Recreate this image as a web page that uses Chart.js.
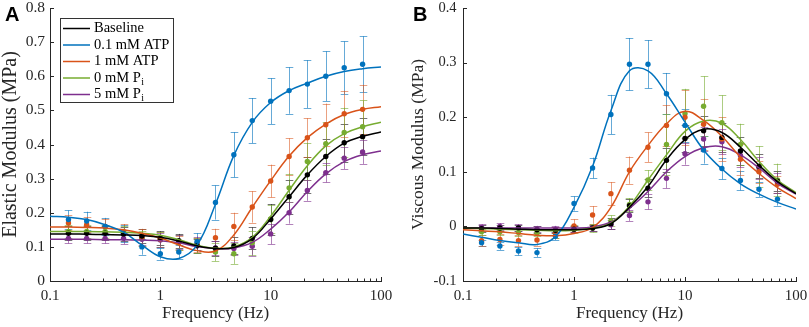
<!DOCTYPE html>
<html><head><meta charset="utf-8">
<script src="https://cdn.jsdelivr.net/npm/chart.js@4"></script>
<style>
html,body{margin:0;padding:0;background:#fff;}
#wrap{position:relative;width:809px;height:327px;overflow:hidden;}
.panel{position:absolute;top:0;height:327px;}
#pa{left:0;width:400px;} #pb{left:400px;width:409px;}
</style></head><body>
<div id="wrap">
<div class="panel" id="pa"><canvas id="ca"></canvas></div>
<div class="panel" id="pb"><canvas id="cb"></canvas></div>
</div>
<script>
// ---------- data ----------
const seriesNames = ['Baseline', '0.1 mM ATP', '1 mM ATP', '0 mM P_i', '5 mM P_i'];
const seriesColors = ['#000000', '#0072BD', '#D95319', '#77AC30', '#7E2F8E'];
const errorColors = ['rgba(0,0,0,0.55)', 'rgba(0,114,189,0.6)', 'rgba(217,83,25,0.55)', 'rgba(119,172,48,0.6)', 'rgba(126,47,142,0.6)'];

const xTickValues = [0.1, 1, 10, 100];
const xTickLabels = ['0.1', '1', '10', '100'];
const elasticTickValues = [0, 0.1, 0.2, 0.3, 0.4, 0.5, 0.6, 0.7, 0.8];
const elasticTickLabels = ['0', '0.1', '0.2', '0.3', '0.4', '0.5', '0.6', '0.7', '0.8'];
const viscousTickValues = [-0.1, 0, 0.1, 0.2, 0.3, 0.4];
const viscousTickLabels = ['-0.1', '0', '0.1', '0.2', '0.3', '0.4'];

// measured frequencies (Hz)
const freqs = [0.147, 0.215, 0.316, 0.464, 0.681, 1, 1.47, 2.15, 3.16, 4.64, 6.81, 10, 14.7, 21.5, 31.6, 46.4, 68.1];
// frequencies at which the fitted curves were read
const fitFreqs = [0.1, 0.147, 0.215, 0.316, 0.464, 0.681, 1, 1.47, 2.15, 3.16, 4.64, 6.81, 10, 14.7, 21.5, 31.6, 46.4, 68.1, 100];

// Elastic modulus (MPa) - panel A
const elasticBaseline = [0.140, 0.140, 0.140, 0.138, 0.132, 0.126, 0.118, 0.103, 0.096, 0.103, 0.125, 0.180, 0.247, 0.311, 0.365, 0.405, 0.423];
const elasticBaselineErr = [0.02, 0.02, 0.02, 0.02, 0.02, 0.02, 0.02, 0.02, 0.022, 0.025, 0.032, 0.045, 0.05, 0.053, 0.05, 0.055, 0.055];
const elasticAtp01 = [0.180, 0.176, 0.160, 0.140, 0.100, 0.080, 0.085, 0.115, 0.230, 0.370, 0.470, 0.527, 0.558, 0.577, 0.600, 0.625, 0.635];
const elasticAtp01Err = [0.027, 0.027, 0.025, 0.025, 0.023, 0.017, 0.020, 0.025, 0.050, 0.066, 0.066, 0.067, 0.068, 0.070, 0.073, 0.077, 0.082];
const elasticAtp1 = [0.170, 0.165, 0.160, 0.145, 0.128, 0.122, 0.112, 0.105, 0.127, 0.160, 0.217, 0.293, 0.365, 0.420, 0.458, 0.490, 0.503];
const elasticAtp1Err = [0.022, 0.022, 0.022, 0.022, 0.025, 0.022, 0.02, 0.02, 0.026, 0.04, 0.046, 0.048, 0.053, 0.057, 0.062, 0.068, 0.072];
const elasticPi0 = [0.145, 0.145, 0.145, 0.142, 0.125, 0.122, 0.112, 0.105, 0.085, 0.080, 0.112, 0.182, 0.273, 0.350, 0.402, 0.435, 0.452];
const elasticPi0Err = [0.02, 0.02, 0.02, 0.02, 0.022, 0.022, 0.022, 0.022, 0.027, 0.03, 0.035, 0.04, 0.042, 0.055, 0.063, 0.073, 0.077];
const elasticPi5 = [0.125, 0.125, 0.125, 0.125, 0.122, 0.120, 0.115, 0.110, 0.097, 0.095, 0.102, 0.138, 0.200, 0.265, 0.317, 0.360, 0.378];
const elasticPi5Err = [0.015, 0.015, 0.015, 0.017, 0.017, 0.02, 0.02, 0.02, 0.02, 0.02, 0.028, 0.03, 0.032, 0.03, 0.028, 0.032, 0.035];

const elasticFitBaseline = [0.138, 0.138, 0.137, 0.136, 0.135, 0.133, 0.128, 0.117, 0.103, 0.095, 0.098, 0.124, 0.182, 0.247, 0.311, 0.365, 0.404, 0.424, 0.437];
const elasticFitAtp01 = [0.190, 0.187, 0.180, 0.165, 0.143, 0.105, 0.071, 0.066, 0.105, 0.225, 0.368, 0.465, 0.523, 0.558, 0.580, 0.600, 0.614, 0.622, 0.627];
const elasticFitAtp1 = [0.158, 0.158, 0.157, 0.155, 0.150, 0.140, 0.126, 0.106, 0.089, 0.088, 0.135, 0.216, 0.294, 0.366, 0.420, 0.460, 0.488, 0.503, 0.511];
const elasticFitPi0 = [0.145, 0.145, 0.145, 0.144, 0.143, 0.140, 0.134, 0.121, 0.105, 0.096, 0.100, 0.128, 0.190, 0.266, 0.338, 0.396, 0.432, 0.452, 0.465];
const elasticFitPi5 = [0.122, 0.122, 0.122, 0.121, 0.121, 0.120, 0.118, 0.112, 0.101, 0.095, 0.097, 0.113, 0.152, 0.202, 0.262, 0.314, 0.350, 0.370, 0.381];

// Viscous modulus (MPa) - panel B
const viscousBaseline = [-0.004, -0.003, -0.003, -0.006, -0.007, -0.005, -0.003, 0.005, 0.038, 0.070, 0.121, 0.161, 0.175, 0.163, 0.138, 0.110, 0.083];
const viscousBaselineErr = [0.006, 0.006, 0.006, 0.006, 0.006, 0.006, 0.006, 0.01, 0.012, 0.017, 0.022, 0.025, 0.027, 0.027, 0.025, 0.022, 0.018];
const viscousAtp01 = [-0.030, -0.036, -0.045, -0.048, -0.018, 0.042, 0.107, 0.205, 0.297, 0.297, 0.243, 0.185, 0.140, 0.106, 0.084, 0.068, 0.050];
const viscousAtp01Err = [0.006, 0.007, 0.008, 0.008, 0.007, 0.013, 0.019, 0.036, 0.048, 0.044, 0.038, 0.03, 0.025, 0.02, 0.018, 0.014, 0.012];
const viscousAtp1 = [-0.026, -0.024, -0.026, -0.025, -0.012, 0.001, 0.021, 0.060, 0.103, 0.145, 0.185, 0.200, 0.187, 0.160, 0.123, 0.100, 0.077];
const viscousAtp1Err = [0.01, 0.01, 0.01, 0.01, 0.01, 0.012, 0.016, 0.021, 0.025, 0.027, 0.037, 0.05, 0.047, 0.04, 0.028, 0.02, 0.015];
const viscousPi0 = [-0.010, -0.010, -0.011, -0.012, -0.013, -0.005, -0.003, 0.010, 0.040, 0.085, 0.150, 0.207, 0.220, 0.190, 0.150, 0.110, 0.085];
const viscousPi0Err = [0.006, 0.006, 0.006, 0.006, 0.008, 0.008, 0.008, 0.01, 0.012, 0.018, 0.055, 0.045, 0.055, 0.05, 0.038, 0.037, 0.03];
const viscousPi5 = [-0.002, 0.000, -0.002, -0.005, -0.005, -0.005, -0.003, 0.003, 0.020, 0.045, 0.088, 0.133, 0.160, 0.155, 0.130, 0.107, 0.080];
const viscousPi5Err = [0.006, 0.006, 0.006, 0.006, 0.006, 0.006, 0.006, 0.008, 0.01, 0.014, 0.018, 0.02, 0.022, 0.023, 0.022, 0.02, 0.018];

const viscousFitBaseline = [-0.003, -0.003, -0.004, -0.005, -0.006, -0.006, -0.006, -0.004, 0.005, 0.035, 0.073, 0.122, 0.159, 0.178, 0.172, 0.145, 0.112, 0.082, 0.060];
const viscousFitAtp01 = [-0.014, -0.020, -0.026, -0.030, -0.033, -0.019, 0.035, 0.110, 0.212, 0.285, 0.285, 0.243, 0.191, 0.140, 0.105, 0.078, 0.059, 0.044, 0.032];
const viscousFitAtp1 = [-0.006, -0.008, -0.010, -0.013, -0.016, -0.017, -0.013, -0.002, 0.035, 0.100, 0.148, 0.188, 0.211, 0.194, 0.165, 0.127, 0.097, 0.071, 0.051];
const viscousFitPi0 = [-0.003, -0.004, -0.005, -0.006, -0.007, -0.008, -0.007, -0.003, 0.006, 0.037, 0.085, 0.131, 0.174, 0.193, 0.189, 0.159, 0.119, 0.085, 0.062];
const viscousFitPi5 = [-0.003, -0.003, -0.003, -0.003, -0.003, -0.003, -0.003, -0.001, 0.008, 0.033, 0.064, 0.100, 0.128, 0.144, 0.146, 0.131, 0.107, 0.079, 0.059];

// ---------- helpers ----------
const SERIF = '"Liberation Serif", "Times New Roman", serif';
const AXIS_COLOR = '#262626';

function buildDatasets(means, errs, fits) {
  const ds = [];
  for (let s = 0; s < 5; s++) {
    ds.push({
      type: 'line', label: seriesNames[s],
      data: fitFreqs.map((f, i) => ({x: f, y: fits[s][i]})),
      borderColor: seriesColors[s], borderWidth: 1.5, pointRadius: 0,
      tension: 0.4, fill: false, order: 1, isFit: true
    });
    ds.push({
      type: 'line', label: seriesNames[s] + ' data', showLine: false,
      data: freqs.map((f, i) => ({x: f, y: means[s][i]})),
      errs: errs[s], errColor: errorColors[s],
      pointRadius: 2.7, pointHoverRadius: 2.7, pointBorderWidth: 0,
      pointBackgroundColor: seriesColors[s], borderColor: seriesColors[s],
      order: 2
    });
  }
  return ds;
}

const errorBarPlugin = {
  id: 'errorBars',
  beforeDatasetsDraw(chart) {
    const ctx = chart.ctx, xs = chart.scales.x, ys = chart.scales.y;
    ctx.save();
    ctx.lineWidth = 1;
    chart.data.datasets.forEach(ds => {
      if (!ds.errs) return;
      ctx.strokeStyle = ds.errColor;
      ds.data.forEach((p, i) => {
        const x = Math.round(xs.getPixelForValue(p.x)) + 0.5;
        const y1 = ys.getPixelForValue(p.y - ds.errs[i]);
        const y2 = ys.getPixelForValue(p.y + ds.errs[i]);
        ctx.beginPath();
        ctx.moveTo(x, y1); ctx.lineTo(x, y2);
        ctx.moveTo(x - 3.8, Math.round(y1) + 0.5); ctx.lineTo(x + 3.8, Math.round(y1) + 0.5);
        ctx.moveTo(x - 3.8, Math.round(y2) + 0.5); ctx.lineTo(x + 3.8, Math.round(y2) + 0.5);
        ctx.stroke();
      });
    });
    ctx.restore();
  }
};

const axisTickPlugin = {
  id: 'axisTicks',
  afterDraw(chart) {
    const ctx = chart.ctx, xs = chart.scales.x, ys = chart.scales.y, a = chart.chartArea;
    ctx.save();
    ctx.strokeStyle = AXIS_COLOR; ctx.lineWidth = 1;
    ctx.beginPath();
    for (let d = -1; d <= 1; d++) {
      for (let m = 1; m <= 9; m++) {
        const v = m * Math.pow(10, d);
        const x = Math.round(xs.getPixelForValue(v)) + 0.5;
        const len = m === 1 ? 4 : 2.5;
        ctx.moveTo(x, a.bottom); ctx.lineTo(x, a.bottom - len);
      }
    }
    const x100 = Math.round(xs.getPixelForValue(100)) + 0.5;
    ctx.moveTo(x100, a.bottom); ctx.lineTo(x100, a.bottom - 4);
    ys.ticks.forEach(t => {
      const y = Math.round(ys.getPixelForValue(t.value)) + 0.5;
      ctx.moveTo(a.left, y); ctx.lineTo(a.left + 4, y);
    });
    ctx.stroke();
    ctx.restore();
  }
};

function panelLetterPlugin(letter, x) {
  return {
    id: 'panelLetter' + letter,
    afterDraw(chart) {
      const ctx = chart.ctx;
      ctx.save();
      ctx.fillStyle = '#000';
      ctx.font = 'bold 20px "Liberation Sans", Arial, sans-serif';
      ctx.textBaseline = 'top';
      ctx.fillText(letter, x, 5);
      ctx.restore();
    }
  };
}

const legendPlugin = {
  id: 'boxLegend',
  afterDraw(chart) {
    const ctx = chart.ctx;
    const bx = 60.5, by = 18.5, bw = 113, bh = 84;
    ctx.save();
    ctx.fillStyle = '#fff';
    ctx.fillRect(bx, by, bw, bh);
    ctx.strokeStyle = '#333'; ctx.lineWidth = 1;
    ctx.strokeRect(bx, by, bw, bh);
    seriesNames.forEach((name, i) => {
      const y = 28.5 + i * 16.5;
      ctx.strokeStyle = seriesColors[i]; ctx.lineWidth = 1.5;
      ctx.beginPath(); ctx.moveTo(63, y); ctx.lineTo(90, y); ctx.stroke();
      ctx.fillStyle = '#000';
      ctx.textBaseline = 'middle';
      ctx.font = '14.5px ' + SERIF;
      const parts = name.split('_');
      ctx.fillText(parts[0], 94, y);
      if (parts[1]) {
        const w = ctx.measureText(parts[0]).width;
        ctx.font = '10px ' + SERIF;
        ctx.fillText(parts[1], 94 + w + 0.5, y + 4);
      }
    });
    ctx.restore();
  }
};

function makeChart(canvasId, cfg) {
  return new Chart(document.getElementById(canvasId), {
    type: 'line',
    data: {datasets: buildDatasets(cfg.means, cfg.errs, cfg.fits)},
    options: {
      responsive: true, maintainAspectRatio: false, animation: false,
      devicePixelRatio: 1,
      layout: {padding: {left: 0, right: cfg.padRight, top: 8, bottom: 0}},
      plugins: {legend: {display: false}, tooltip: {enabled: false}},
      scales: {
        x: {
          type: 'logarithmic', min: 0.1, max: 100,
          afterBuildTicks: s => { s.ticks = xTickValues.map(v => ({value: v})); },
          afterFit: s => { s.height = 46; s.paddingLeft = 0; s.paddingRight = 0; },
          grid: {display: false, drawTicks: false},
          border: {display: true, color: AXIS_COLOR, width: 1},
          ticks: {
            autoSkip: false, maxRotation: 0, padding: 6, color: AXIS_COLOR,
            font: {family: SERIF, size: 15},
            callback: (v) => { const i = xTickValues.indexOf(v); return i >= 0 ? xTickLabels[i] : ''; }
          },
          title: {display: true, text: 'Frequency (Hz)', color: AXIS_COLOR,
                  font: {family: SERIF, size: 17}, padding: {top: 0, bottom: 3}}
        },
        y: {
          min: cfg.yTicks[0], max: cfg.yTicks[cfg.yTicks.length - 1],
          afterBuildTicks: s => { s.ticks = cfg.yTicks.map(v => ({value: v})); },
          afterFit: s => { s.width = cfg.yWidth; s.paddingTop = 0; s.paddingBottom = 0; },
          grid: {display: false, drawTicks: false},
          border: {display: true, color: AXIS_COLOR, width: 1},
          ticks: {
            padding: cfg.yTickPad, color: AXIS_COLOR,
            font: {family: SERIF, size: cfg.yTickSize},
            callback: (v) => { const i = cfg.yTicks.findIndex(t => Math.abs(t - v) < 1e-9); return i >= 0 ? cfg.yLabels[i] : ''; }
          },
          title: {display: true, text: cfg.yTitle, color: AXIS_COLOR,
                  font: {family: SERIF, size: cfg.yTitleSize, lineHeight: 1}, padding: {top: cfg.yTitlePad, bottom: 0}}
        }
      }
    },
    plugins: cfg.plugins
  });
}

makeChart('ca', {
  means: [elasticBaseline, elasticAtp01, elasticAtp1, elasticPi0, elasticPi5],
  errs: [elasticBaselineErr, elasticAtp01Err, elasticAtp1Err, elasticPi0Err, elasticPi5Err],
  fits: [elasticFitBaseline, elasticFitAtp01, elasticFitAtp1, elasticFitPi0, elasticFitPi5],
  yTicks: elasticTickValues, yLabels: elasticTickLabels,
  yTitle: 'Elastic Modulus (MPa)', yTitleSize: 20, yTitlePad: 0.5,
  yWidth: 50, yTickPad: 5, yTickSize: 15.5, padRight: 19,
  plugins: [errorBarPlugin, axisTickPlugin, legendPlugin, panelLetterPlugin('A', 5)]
});

makeChart('cb', {
  means: [viscousBaseline, viscousAtp01, viscousAtp1, viscousPi0, viscousPi5],
  errs: [viscousBaselineErr, viscousAtp01Err, viscousAtp1Err, viscousPi0Err, viscousPi5Err],
  fits: [viscousFitBaseline, viscousFitAtp01, viscousFitAtp1, viscousFitPi0, viscousFitPi5],
  yTicks: viscousTickValues, yLabels: viscousTickLabels,
  yTitle: 'Viscous Modulus (MPa)', yTitleSize: 17.5, yTitlePad: 10,
  yWidth: 63, yTickPad: 6.5, yTickSize: 14.5, padRight: 13,
  plugins: [errorBarPlugin, axisTickPlugin, panelLetterPlugin('B', 13)]
});
</script>
</body></html>
